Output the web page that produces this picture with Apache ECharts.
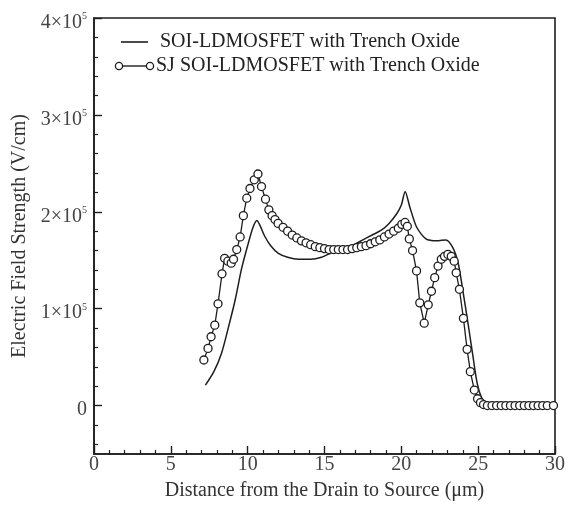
<!DOCTYPE html>
<html>
<head>
<meta charset="utf-8">
<script src="https://cdn.jsdelivr.net/npm/echarts@6/dist/echarts.min.js"></script>
<style>
  html, body { margin: 0; padding: 0; background: #fff; }
  #chart { width: 568px; height: 506px; }
</style>
</head>
<body>
<div id="chart"></div>
<script>
// Electric field along the drift region, distance in µm, field in V/cm
const seriesNames = ['SOI-LDMOSFET with Trench Oxide', 'SJ SOI-LDMOSFET with Trench Oxide'];

const conventionalX = [7.25, 7.8, 8.3, 8.8, 9.2, 9.6, 10.05, 10.35, 10.6, 10.8, 11.1, 11.5, 12.0, 12.6, 13.3, 14.1, 14.8, 15.5, 16.2, 16.9, 17.5, 18.1, 18.7, 19.2, 19.7, 20.0, 20.25, 20.55, 21.0, 21.6, 22.3, 22.9, 23.35, 23.7, 24.0, 24.3, 24.65, 24.95, 25.3, 25.8, 26.5, 30.0];
const conventionalY = [21000, 35000, 54000, 84000, 110000, 141000, 168000, 184000, 191000, 186000, 175000, 165000, 157000, 153000, 151000, 151000, 153000, 158000, 162000, 166000, 171000, 176000, 181000, 188000, 198000, 207000, 221000, 205000, 184000, 172000, 170000, 171000, 163000, 147000, 119000, 89000, 52000, 22000, 6000, 1000, 0, 0];

const sjX = [7.15, 7.42, 7.62, 7.86, 8.07, 8.33, 8.5, 8.71, 8.93, 9.08, 9.29, 9.51, 9.72, 9.94, 10.15, 10.43, 10.67, 10.9, 11.16, 11.38, 11.59, 11.78, 11.98, 12.3, 12.6, 12.9, 13.2, 13.5, 13.8, 14.1, 14.4, 14.7, 15.0, 15.3, 15.6, 15.9, 16.2, 16.5, 16.8, 17.1, 17.4, 17.7, 18.0, 18.3, 18.6, 18.9, 19.2, 19.5, 19.8, 20.03, 20.24, 20.39, 20.52, 20.73, 20.99, 21.2, 21.49, 21.75, 21.96, 22.17, 22.39, 22.6, 22.81, 23.03, 23.25, 23.44, 23.57, 23.78, 24.04, 24.28, 24.49, 24.75, 24.96, 25.15, 25.35, 25.6, 25.9, 26.2, 26.5, 26.8, 27.1, 27.4, 27.7, 28.0, 28.3, 28.6, 28.9, 29.2, 29.5, 29.9];
const sjY = [47000, 59000, 71000, 83000, 105000, 136000, 152000, 149000, 147000, 151000, 161000, 174000, 196000, 214000, 224000, 233000, 239000, 226000, 213000, 202000, 196000, 192000, 188000, 184000, 180000, 176000, 173000, 170000, 168000, 166000, 164000, 163000, 162000, 161000, 161000, 161000, 161000, 161000, 162000, 163000, 164000, 165000, 167000, 169000, 171000, 174000, 177000, 180000, 183000, 187000, 189000, 185000, 172000, 160000, 139000, 106000, 85000, 104000, 118000, 132000, 144000, 151000, 154000, 156000, 154000, 149000, 137000, 120000, 90000, 58000, 35000, 16000, 7000, 3000, 1000, 0, 0, 0, 0, 0, 0, 0, 0, 0, 0, 0, 0, 0, 0, 0];

const xTicks = [0, 5, 10, 15, 20, 25, 30];
const yMajorTicks = [0, 100000, 200000, 300000, 400000];
const yMinorTicks = [-40000, -20000, 20000, 40000, 60000, 80000, 120000, 140000, 160000, 180000, 220000, 240000, 260000, 280000, 320000, 340000, 360000, 380000];

const serif = '"Liberation Serif", "DejaVu Serif", serif';
const ink = '#1e1e1e';

const zip = (xs, ys) => xs.map((x, i) => [x, ys[i]]);

const chart = echarts.init(document.getElementById('chart'), null, { renderer: 'canvas' });

function yLabel(v) {
  if (v === 0) return '{a|0}';
  return '{a|' + Math.round(v / 100000) + '×10}{s|5}';
}

const yBase = {
  type: 'value', min: -50000, max: 400000, position: 'left',
  splitLine: { show: false }
};

chart.setOption({
  animation: false,
  grid: { left: 94, right: 8, top: 18, bottom: 48, show: true, borderColor: ink, borderWidth: 1.6, backgroundColor: 'transparent' },
  xAxis: {
    type: 'value', min: 0, max: 30, interval: 5,
    name: 'Distance from the Drain to Source (μm)',
    nameLocation: 'middle', nameGap: 27,
    nameTextStyle: { fontFamily: serif, fontSize: 20, color: '#333' },
    axisLine: { show: true, onZero: false, lineStyle: { color: ink, width: 1.6 } },
    axisTick: { show: true, inside: true, length: 8, lineStyle: { color: ink, width: 1.4 } },
    minorTick: { show: true, splitNumber: 5, length: 4, lineStyle: { color: ink, width: 1.2 } },
    axisLabel: { fontFamily: serif, fontSize: 20, color: '#444', margin: 1, customValues: xTicks },
    splitLine: { show: false }
  },
  yAxis: [
    Object.assign({}, yBase, {
      name: 'Electric Field Strength (V/cm)',
      nameLocation: 'middle', nameGap: 64,
      nameTextStyle: { fontFamily: serif, fontSize: 20, color: '#333' },
      axisLine: { show: true, onZero: false, lineStyle: { color: ink, width: 1.6 } },
      axisTick: { show: true, inside: true, length: 8, lineStyle: { color: ink, width: 1.4 }, customValues: yMajorTicks },
      axisLabel: {
        customValues: yMajorTicks, margin: 7, formatter: yLabel, padding: [9, 0, 0, 0],
        rich: {
          a: { fontFamily: serif, fontSize: 20, color: '#444', lineHeight: 22 },
          s: { fontFamily: serif, fontSize: 10, color: '#444', lineHeight: 22, verticalAlign: 'top', padding: [0, 0, 12, 0] }
        }
      }
    }),
    Object.assign({}, yBase, {
      axisLine: { show: false, onZero: false },
      axisTick: { show: true, inside: true, length: 4, lineStyle: { color: ink, width: 1.2 }, customValues: yMinorTicks },
      axisLabel: { show: false }
    })
  ],
  series: [
    {
      name: seriesNames[0], type: 'line', data: zip(conventionalX, conventionalY),
      showSymbol: false, smooth: 0.25, lineStyle: { color: ink, width: 1.5 }, z: 2
    },
    {
      name: seriesNames[1], type: 'line', data: zip(sjX, sjY),
      symbol: 'circle', symbolSize: 8, showSymbol: true,
      lineStyle: { color: ink, width: 1.3 },
      itemStyle: { color: '#fff', borderColor: ink, borderWidth: 1.3 }, z: 3
    }
  ],
  graphic: [
    { type: 'line', shape: { x1: 121, y1: 42, x2: 148, y2: 42 }, style: { stroke: ink, lineWidth: 1.6 } },
    { type: 'text', left: 160, top: 32, style: { text: seriesNames[0], font: '20px ' + serif, fill: '#222' } },
    { type: 'line', shape: { x1: 119, y1: 66, x2: 150, y2: 66 }, style: { stroke: ink, lineWidth: 1.4 } },
    { type: 'circle', shape: { cx: 119, cy: 66, r: 3.6 }, style: { fill: '#fff', stroke: ink, lineWidth: 1.3 } },
    { type: 'circle', shape: { cx: 150, cy: 66, r: 3.6 }, style: { fill: '#fff', stroke: ink, lineWidth: 1.3 } },
    { type: 'text', left: 156, top: 56, style: { text: seriesNames[1], font: '20px ' + serif, fill: '#222' } }
  ]
});
</script>
</body>
</html>
